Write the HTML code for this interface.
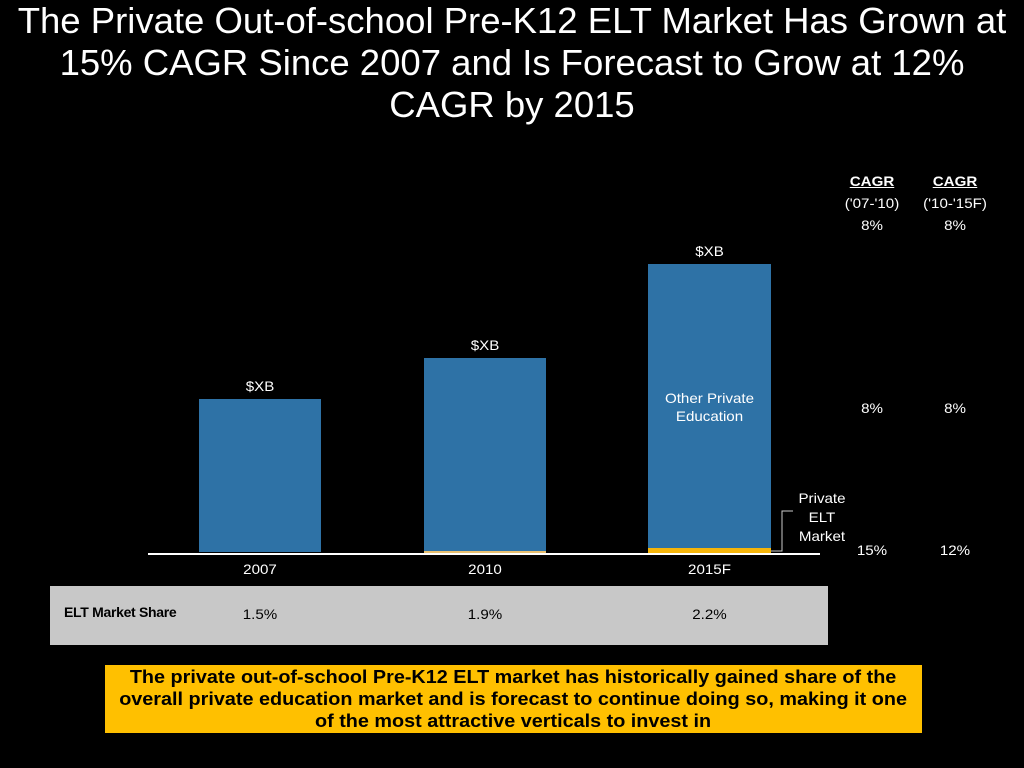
<!DOCTYPE html><html><head><style>
body{margin:0;width:1024px;height:768px;background:#000;position:relative;overflow:hidden;font-family:"Liberation Sans",sans-serif;color:#fff}
.a{position:absolute}
.t{text-align:center;font-size:14px;transform:scaleX(1.08)}
</style></head><body>
<div class="a" style="left:0;top:0px;width:1024px;text-align:center;font-size:36.5px;line-height:42px;white-space:nowrap">The Private Out-of-school Pre-K12 ELT Market Has Grown at<br>15% CAGR Since 2007 and Is Forecast to Grow at 12%<br>CAGR by 2015</div>
<div class="a" style="left:199px;top:399px;width:122px;height:153px;background:#2e72a6"></div>
<div class="a" style="left:424px;top:358px;width:122px;height:193px;background:#2e72a6"></div>
<div class="a" style="left:424px;top:551px;width:122px;height:2px;background:#e8c070"></div>
<div class="a" style="left:648px;top:264px;width:123px;height:284px;background:#2e72a6"></div>
<div class="a" style="left:648px;top:548px;width:123px;height:5px;background:#f5b50a"></div>
<div class="a" style="left:148px;top:553px;width:672px;height:2px;background:#fff"></div>
<svg class="a" style="left:0;top:0" width="1024" height="768"><polyline points="771,551 782,551 782,511 793,511" fill="none" stroke="#ccc" stroke-width="1"/></svg>
<div class="a t" style="left:199px;top:378px;width:122px">$XB</div>
<div class="a t" style="left:424px;top:337px;width:122px">$XB</div>
<div class="a t" style="left:648px;top:243px;width:123px">$XB</div>
<div class="a t" style="left:648px;top:389px;width:123px;line-height:18px">Other Private<br>Education</div>
<div class="a t" style="left:780px;top:489px;width:84px;line-height:19px">Private<br>ELT<br>Market</div>
<div class="a t" style="left:199px;top:561px;width:122px">2007</div>
<div class="a t" style="left:424px;top:561px;width:122px">2010</div>
<div class="a t" style="left:648px;top:561px;width:123px">2015F</div>
<div class="a t" style="left:832px;top:170px;width:80px;line-height:22px"><b><u>CAGR</u></b><br>('07-'10)<br>8%</div>
<div class="a t" style="left:915px;top:170px;width:80px;line-height:22px"><b><u>CAGR</u></b><br>('10-'15F)<br>8%</div>
<div class="a t" style="left:832px;top:400px;width:80px">8%</div>
<div class="a t" style="left:915px;top:400px;width:80px">8%</div>
<div class="a t" style="left:832px;top:542px;width:80px">15%</div>
<div class="a t" style="left:915px;top:542px;width:80px">12%</div>
<div class="a" style="left:50px;top:586px;width:778px;height:59px;background:#c8c8c8;color:#000">
<div class="a" style="left:14px;top:18px;font-size:14px;font-weight:bold;letter-spacing:-0.3px">ELT Market Share</div>
<div class="a t" style="left:149px;top:20px;width:122px">1.5%</div>
<div class="a t" style="left:374px;top:20px;width:122px">1.9%</div>
<div class="a t" style="left:598px;top:20px;width:123px">2.2%</div>
</div>
<div class="a" style="left:105px;top:665px;width:817px;height:68px;background:#ffc000;color:#000;font-weight:bold;font-size:18px;line-height:22px;text-align:center;display:flex;align-items:center;justify-content:center;white-space:nowrap"><div style="transform:scaleX(1.1)">The private out-of-school Pre-K12 ELT market has historically gained share of the<br>overall private education market and is forecast to continue doing so, making it one<br>of the most attractive verticals to invest in</div></div>
</body></html>
